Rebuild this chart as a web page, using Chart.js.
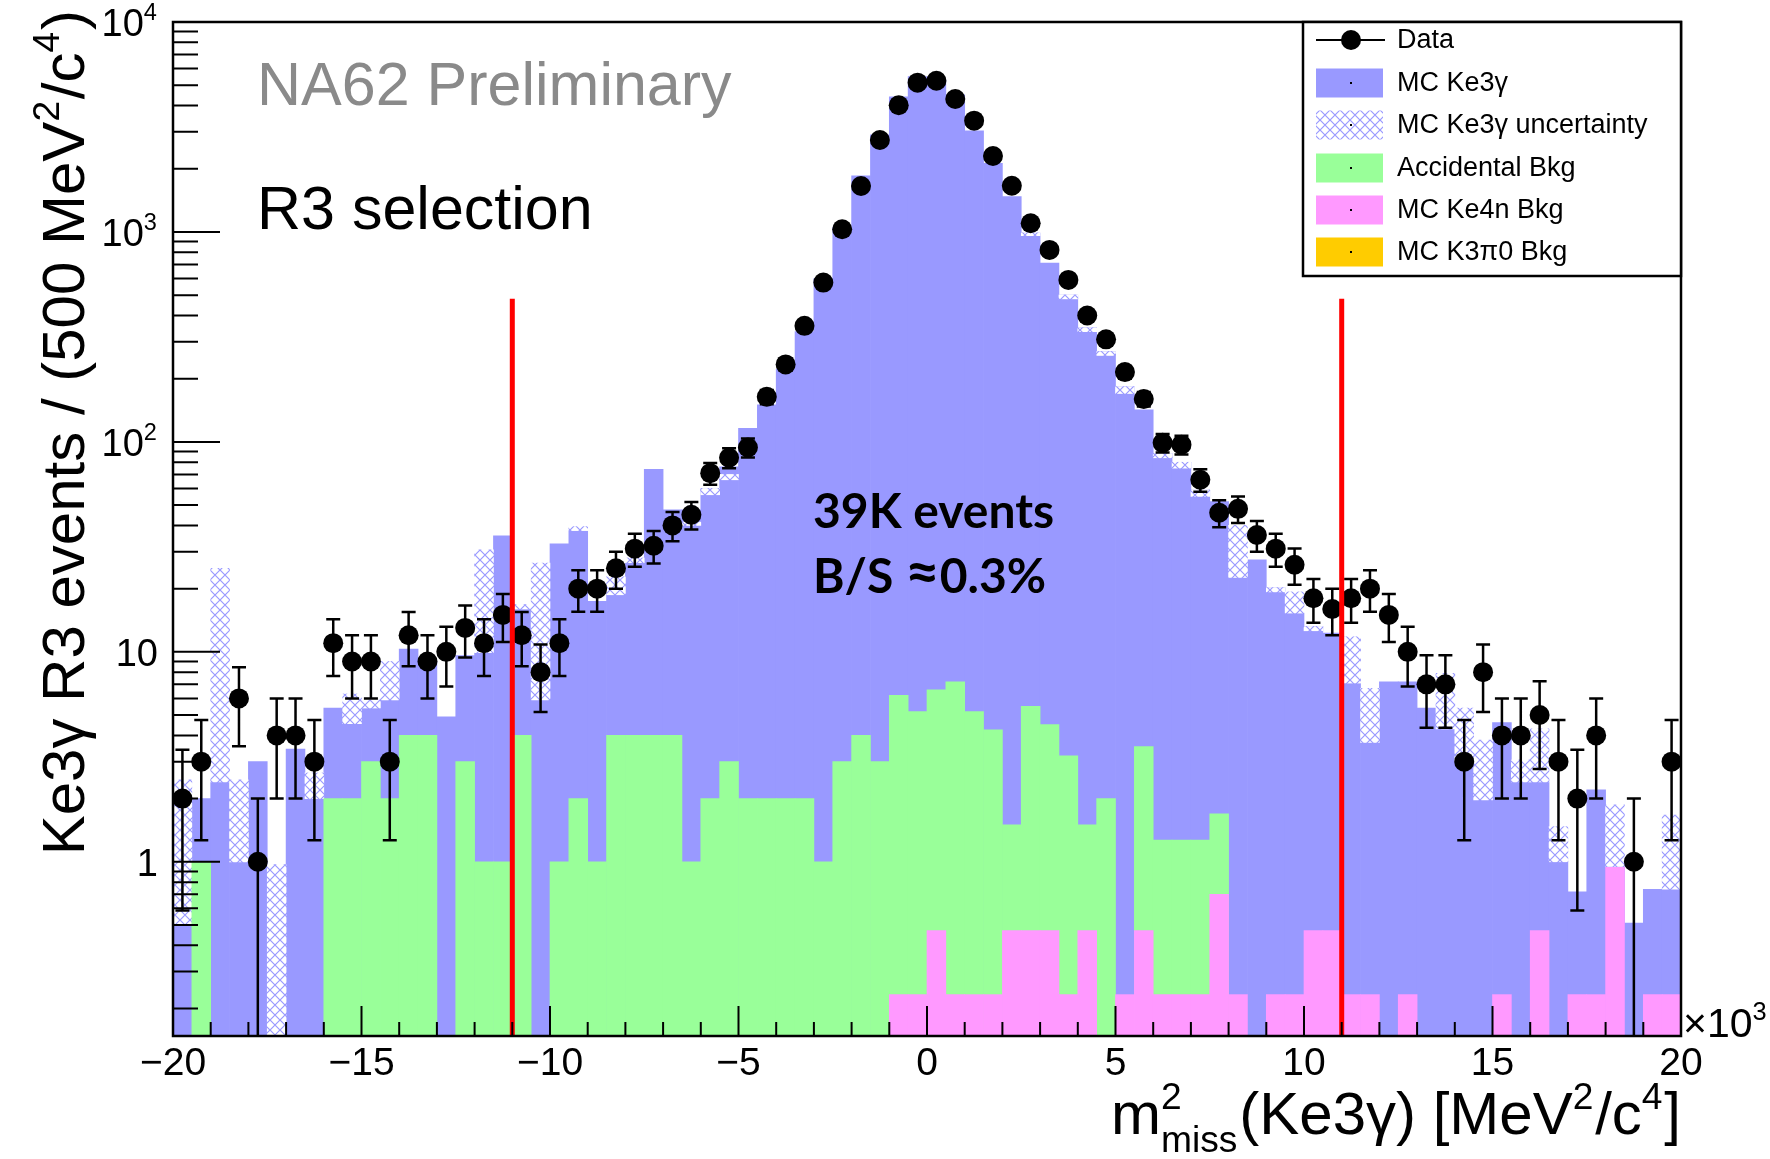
<!DOCTYPE html>
<html>
<head>
<meta charset="utf-8">
<title>Ke3γ R3 selection</title>
<script src="https://cdn.jsdelivr.net/npm/chart.js@4.4.1/dist/chart.umd.min.js"></script>
<style>
  html, body { margin: 0; padding: 0; background: #fff; }
  #wrap { width: 1770px; height: 1159px; }
</style>
</head>
<body>
<div id="wrap"><canvas id="ke3gChart" width="1770" height="1159"></canvas></div>
<script>
// binning: 80 bins of 500 MeV^2/c^4 between -20e3 and 20e3 (axis in units of 10^3)
const xMin = -20, xMax = 20, binWidth = 0.5;
const binCenters = [];
for (let i = 0; i < (xMax - xMin) / binWidth; i++) binCenters.push(xMin + binWidth * (i + 0.5));

// data counts per bin
const dataCounts = [
  2, 3, 0, 6, 1, 4, 4, 3, 11, 9,
  9, 3, 12, 9, 10, 13, 11, 15, 12, 8,
  11, 20, 20, 25, 31, 32, 40, 45, 71, 84,
  94, 164, 234, 357, 574, 1030, 1656, 2742, 4014, 5140,
  5250, 4300, 3388, 2300, 1660, 1100, 821, 591, 400, 308,
  215, 160, 99, 97, 66, 46, 48, 36, 31, 26,
  18, 16, 18, 20, 15, 10, 7, 7, 3, 8,
  4, 4, 5, 3, 2, 4, 0, 1, 0, 3
];

// MC Ke3g (stack top, blue)
const mcKe3g = [
  0.5, 2.0, 2.4, 1.0, 3.0, null, 3.44, 2.0, 5.4, 4.55,
  5.4, 5.9, 10.3, 9.0, 4.9, 9.6, 9.9, 35.7, 16, 5.9,
  32.7, 37.8, 17.4, 18.7, 26.6, 74, 47.5, 47.5, 60, 76,
  116, 150, 222, 335, 600, 1050, 1850, 2900, 4400, 5500,
  5300, 4500, 3035, 2124, 1472, 989, 711, 501, 349, 269,
  183, 142, 88, 80, 59, 52, 22.6, 27.4, 20.2, 15.3,
  13.2, 12.3, 7.1, 3.7, 7.2, 7.2, 5.4, 4.3, 3.0, 1.97,
  4.6, 2.4, 2.4, 1.0, 0.72, 2.2, 0.95, 0.51, 0.74, 0.74
];

// MC Ke3g uncertainty band (hatched), only bins where it shows
const mcErrBins = [0, 2, 3, 5, 7, 9, 10, 11, 16, 18, 19, 21, 23, 24, 27, 28, 29, 45, 47, 48, 49, 50, 52, 53, 54, 56, 58, 59, 60, 62, 63, 67, 68, 69, 71, 72, 73, 76, 79];
const mcErrLow = [0.5, 2.4, 1.0, 0.148, 2.0, 4.55, 5.4, 5.9, 9.9, 16, 5.9, 37.8, 18.7, 26.6, 40, 56, 66, 960, 480, 335, 258, 170, 84, 75, 55, 22.6, 19.3, 15.3, 12.6, 7.1, 3.7, 4.3, 3.0, 1.97, 2.4, 2.4, 1.0, 0.95, 0.74];
const mcErrHigh = [2.46, 25, 2.46, 0.97, 2.65, 6.3, 5.9, 9.0, 30.6, 16.8, 26.5, 39.5, 22.8, 28, 41.5, 60, 70, 989, 501, 349, 269, 183, 88, 80, 59, 40, 20.2, 19.3, 13.2, 11.8, 6.7, 7.9, 5.4, 3.8, 3.06, 4.3, 1.47, 1.87, 1.67];

// Accidental background (stacked top, green)
const accidentalBkg = [
  null, 1, null, null, null, null, null, null, 2, 2,
  3, 2, 4, 4, null, 3, 1, 1, 4, null,
  1, 2, 1, 4, 4, 4, 4, 1, 2, 3,
  2, 2, 2, 2, 1, 3, 4, 3, 6.2, 5.2,
  6.6, 7.2, 5.2, 4.25, 1.5, 5.5, 4.5, 3.2, 1.5, 2.0,
  null, 3.54, 1.27, 1.27, 1.27, 1.69, null, null, null, null,
  null, null, null, null, null, null, null, null, null, null,
  null, null, null, null, null, null, null, null, null, null
];

// MC Ke4n background (pink)
const ke4nBkg = [
  null, null, null, null, null, null, null, null, null, null,
  null, null, null, null, null, null, null, null, null, null,
  null, null, null, null, null, null, null, null, null, null,
  null, null, null, null, null, null, null, null, 0.233, 0.233,
  0.47, 0.233, 0.233, 0.233, 0.47, 0.47, 0.47, 0.233, 0.47, null,
  0.233, 0.47, 0.233, 0.233, 0.233, 0.70, 0.233, null, 0.233, 0.233,
  0.47, 0.47, 0.233, 0.233, null, 0.233, null, null, null, null,
  0.233, null, 0.47, null, 0.233, 0.233, 0.94, null, 0.233, 0.233
];

const xTicks = [-20, -15, -10, -5, 0, 5, 10, 15, 20];
const yTickValues = [1, 10, 100, 1000, 10000];
const yTickExp = ['', '', '2', '3', '4'];
const cutValues = [-11, 11];
const cutTop = 480;

const legendLabels = ['Data', 'MC Ke3γ', 'MC Ke3γ uncertainty', 'Accidental Bkg', 'MC Ke4n Bkg', 'MC K3π0 Bkg'];

const blue = '#9999ff', green = '#99ff99', pink = '#ff99ff', orange = '#ffcc00';
const rootFont = '"Liberation Sans", Arial, Helvetica, sans-serif';

function makeHatch() {
  const c = document.createElement('canvas');
  c.width = 10; c.height = 10;
  const g = c.getContext('2d');
  g.fillStyle = '#fff';
  g.fillRect(0, 0, 10, 10);
  g.strokeStyle = blue;
  g.lineWidth = 1.2;
  g.beginPath();
  g.moveTo(0, 0); g.lineTo(10, 10);
  g.moveTo(10, 0); g.lineTo(0, 10);
  g.stroke();
  return g.createPattern(c, 'repeat');
}
const hatch = makeHatch();

const hatchData = binCenters.map(() => null);
mcErrBins.forEach((b, i) => { hatchData[b] = [mcErrLow[i], mcErrHigh[i]]; });

// text with super/subscripts: segments {t} | {sup, sub}
function drawRich(ctx, segs, x, y, size, align) {
  const big = size + 'px ' + rootFont;
  const sm = (size * 0.62) + 'px ' + rootFont;
  const widths = segs.map(s => {
    if (s.t !== undefined) { ctx.font = big; return ctx.measureText(s.t).width; }
    ctx.font = sm;
    return Math.max(s.sup ? ctx.measureText(s.sup).width : 0, s.sub ? ctx.measureText(s.sub).width : 0) + size * 0.03;
  });
  const total = widths.reduce((p, q) => p + q, 0);
  let cx = align === 'right' ? x - total : align === 'center' ? x - total / 2 : x;
  ctx.textAlign = 'left';
  ctx.textBaseline = 'alphabetic';
  segs.forEach((s, i) => {
    if (s.t !== undefined) {
      ctx.font = big;
      ctx.fillText(s.t, cx, y);
    } else {
      ctx.font = sm;
      if (s.sup) ctx.fillText(s.sup, cx, y - size * 0.42);
      if (s.sub) ctx.fillText(s.sub, cx, y + size * 0.3);
    }
    cx += widths[i];
  });
}

const rootFrame = {
  id: 'rootFrame',
  afterDatasetsDraw(chart) {
    const { ctx, chartArea: a, scales: { x, y } } = chart;
    ctx.save();
    ctx.beginPath();
    ctx.rect(a.left, a.top, a.right - a.left, a.bottom - a.top);
    ctx.clip();

    // data error bars (sqrt N)
    ctx.strokeStyle = '#000';
    ctx.lineWidth = 2.5;
    ctx.beginPath();
    dataCounts.forEach((n, i) => {
      if (n <= 0) return;
      const err = Math.sqrt(n);
      const px = x.getPixelForValue(binCenters[i]);
      const top = y.getPixelForValue(n + err);
      const low = n - err;
      const bot = low > y.min ? y.getPixelForValue(low) : a.bottom + 5;
      ctx.moveTo(px, top); ctx.lineTo(px, bot);
      ctx.moveTo(px - 7, top); ctx.lineTo(px + 7, top);
      if (low > y.min) { ctx.moveTo(px - 7, bot); ctx.lineTo(px + 7, bot); }
    });
    ctx.stroke();

    // selection cuts
    ctx.strokeStyle = '#ff0000';
    ctx.lineWidth = 5;
    ctx.beginPath();
    cutValues.forEach(v => {
      const px = x.getPixelForValue(v);
      ctx.moveTo(px, a.bottom);
      ctx.lineTo(px, y.getPixelForValue(cutTop));
    });
    ctx.stroke();
    ctx.restore();

    // ticks, inside the frame
    ctx.save();
    ctx.strokeStyle = '#000';
    ctx.lineWidth = 2;
    ctx.beginPath();
    [0.1, 1, 10, 100, 1000, 10000].forEach(d => {
      for (let m = 1; m <= 9; m++) {
        const v = d * m;
        if (v < y.min || v > y.max * 1.0001) continue;
        const py = y.getPixelForValue(v);
        ctx.moveTo(a.left, py);
        ctx.lineTo(a.left + (m === 1 ? 47 : 25), py);
      }
    });
    for (let v = xMin; v <= xMax; v++) {
      const px = x.getPixelForValue(v);
      ctx.moveTo(px, a.bottom);
      ctx.lineTo(px, a.bottom - (v % 5 === 0 ? 30 : 14));
    }
    ctx.stroke();
    ctx.lineWidth = 2.5;
    ctx.strokeRect(a.left, a.top, a.right - a.left, a.bottom - a.top);
    ctx.restore();
  },
  afterDraw(chart) {
    const { ctx, chartArea: a, scales: { x, y } } = chart;
    ctx.save();
    ctx.fillStyle = '#000';

    // x tick labels
    ctx.font = '39px ' + rootFont;
    ctx.textAlign = 'center';
    ctx.textBaseline = 'middle';
    xTicks.forEach(v => {
      const s = v < 0 ? '\u2212' + Math.abs(v) : String(v);
      ctx.fillText(s, x.getPixelForValue(v), 1064);
    });
    drawRich(ctx, [{ t: '×10' }, { sup: '3' }], a.right + 2, 1037, 41, 'left');

    // y tick labels
    yTickValues.forEach((v, i) => {
      const py = y.getPixelForValue(v);
      const segs = yTickExp[i] ? [{ t: '10' }, { sup: yTickExp[i] }] : [{ t: String(v) }];
      drawRich(ctx, segs, 158, py + 14, 38, 'right');
    });

    // axis titles
    drawRich(ctx, [{ t: 'm' }, { sup: '2', sub: 'miss' }, { t: '(Ke3γ) [MeV' }, { sup: '2' }, { t: '/c' }, { sup: '4' }, { t: ']' }],
      a.right, 1134, 60, 'right');
    ctx.save();
    ctx.translate(62, 10);
    ctx.rotate(-Math.PI / 2);
    drawRich(ctx, [{ t: 'Ke3γ R3 events / (500 MeV' }, { sup: '2' }, { t: '/c' }, { sup: '4' }, { t: ')' }],
      0, 22, 60, 'right');
    ctx.restore();

    // annotations
    ctx.textAlign = 'left';
    ctx.textBaseline = 'alphabetic';
    ctx.font = '61px ' + rootFont;
    ctx.fillStyle = '#8a8a8a';
    ctx.fillText('NA62 Preliminary', 257, 105);
    ctx.fillStyle = '#000';
    ctx.fillText('R3 selection', 257, 229);
    const boldFont = 'bold 48px Lato, "Open Sans", sans-serif';
    ctx.font = boldFont;
    ctx.fillText('39K events', 813, 528);
    let bx = 813;
    ctx.fillText('B/S ', bx, 593);
    bx += ctx.measureText('B/S ').width;
    ctx.font = 'bold 60px Lato, "Open Sans", sans-serif';
    ctx.fillText('\u2248', bx, 593);
    bx += ctx.measureText('\u2248').width;
    ctx.font = boldFont;
    ctx.fillText('0.3%', bx, 593);

    // legend
    const lx = 1303, ly = a.top, lw = a.right - 1303, lh = 254;
    ctx.fillStyle = '#fff';
    ctx.fillRect(lx, ly, lw, lh);
    ctx.strokeStyle = '#000';
    ctx.lineWidth = 2.5;
    ctx.strokeRect(lx, ly, lw, lh);
    const rowY = [40, 83, 125, 168, 210, 252];
    const fills = [null, blue, hatch, green, pink, orange];
    ctx.font = '27px ' + rootFont;
    ctx.textBaseline = 'middle';
    legendLabels.forEach((lab, i) => {
      const cy = rowY[i];
      if (i === 0) {
        ctx.lineWidth = 2;
        ctx.beginPath();
        ctx.moveTo(1316, cy); ctx.lineTo(1385, cy);
        ctx.stroke();
        ctx.fillStyle = '#000';
        ctx.beginPath();
        ctx.arc(1351, cy, 10, 0, Math.PI * 2);
        ctx.fill();
      } else {
        ctx.fillStyle = fills[i];
        ctx.fillRect(1316, cy - 14.5, 67, 29);
        ctx.fillStyle = '#000';
        ctx.fillRect(1350, cy - 1, 2, 2);
      }
      ctx.fillStyle = '#000';
      ctx.fillText(lab, 1397, cy + 1);
    });
    ctx.restore();
  }
};

const barOpts = { grouped: false, barPercentage: 1, categoryPercentage: 1, borderWidth: 0 };

new Chart(document.getElementById('ke3gChart').getContext('2d'), {
  type: 'bar',
  data: {
    labels: binCenters,
    datasets: [
      {
        type: 'line',
        label: 'Data',
        data: dataCounts.map(n => (n > 0 ? n : null)),
        showLine: false,
        pointRadius: 10,
        pointHoverRadius: 10,
        pointBackgroundColor: '#000',
        pointBorderColor: '#000',
        pointBorderWidth: 0
      },
      Object.assign({ label: 'MC Ke4n Bkg', data: ke4nBkg, backgroundColor: pink }, barOpts),
      Object.assign({ label: 'Accidental Bkg', data: accidentalBkg, backgroundColor: green }, barOpts),
      Object.assign({ label: 'MC Ke3γ uncertainty', data: hatchData, backgroundColor: hatch }, barOpts),
      Object.assign({ label: 'MC Ke3γ', data: mcKe3g, backgroundColor: blue }, barOpts)
    ]
  },
  options: {
    responsive: false,
    animation: false,
    events: [],
    layout: { padding: { left: 173, right: 89, top: 22, bottom: 123 } },
    plugins: { legend: { display: false }, tooltip: { enabled: false } },
    scales: {
      x: { type: 'linear', min: xMin, max: xMax, offset: false, display: false },
      y: { type: 'logarithmic', min: 0.148, max: 10000, display: false }
    }
  },
  plugins: [rootFrame]
});
</script>
</body>
</html>
